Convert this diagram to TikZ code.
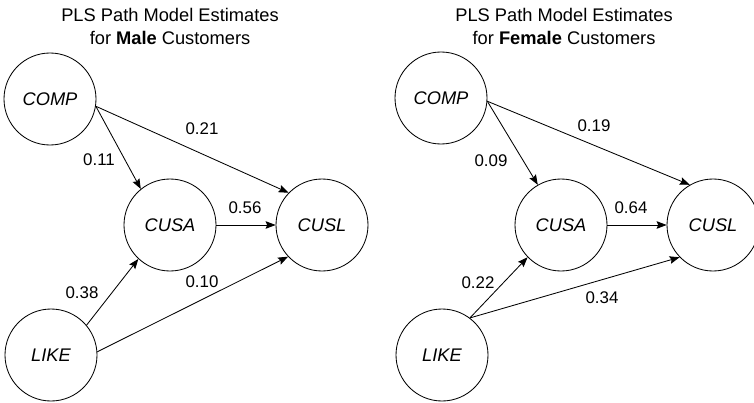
\documentclass[tikz,border=0pt]{standalone}
\usepackage{fontspec}
\setmainfont{Liberation Sans}
\usetikzlibrary{arrows.meta}

\begin{document}
\begin{tikzpicture}[
  latent/.style={draw, circle, minimum size=2.3cm, inner sep=0pt, line width=0.6pt,
                 font=\fontsize{13}{15}\selectfont\itshape},
  path/.style={-{Stealth[length=2.5mm, width=1.9mm, inset=0.4mm]}, line width=0.6pt},
  coef/.style={font=\fontsize{12}{14}\selectfont},
  title/.style={align=center, font=\fontsize{13}{16.5}\selectfont},
]
  \useasboundingbox (0,0) rectangle (18.85,-10.075);

  % ---- Male customers ----
  \node[title] (mtitle) at (4.25,-0.66) {PLS Path Model Estimates\\for \textbf{Male} Customers};
  \node[latent] (mcomp) at (1.25,-2.475)  {COMP};
  \node[latent] (mcusa) at (4.25,-5.625)  {CUSA};
  \node[latent] (mcusl) at (8.05,-5.625)  {CUSL};
  \node[latent] (mlike) at (1.275,-8.875) {LIKE};

  \draw[path] (mcomp.-9) -- (mcusa.129);   % COMP -> CUSA
  \draw[path] (mcomp.-9) -- (mcusl.136);   % COMP -> CUSL
  \draw[path] (mcusa)    -- (mcusl);       % CUSA -> CUSL
  \draw[path] (mlike.40) -- (mcusa.227);   % LIKE -> CUSA
  \draw[path] (mlike.4)  -- (mcusl.223);   % LIKE -> CUSL

  \node[coef] (m21) at (5.05,-3.225)  {0.21};
  \node[coef] (m11) at (2.475,-4.0)   {0.11};
  \node[coef] (m56) at (6.125,-5.2)   {0.56};
  \node[coef] (m38) at (2.05,-7.325)  {0.38};
  \node[coef] (m10) at (5.05,-7.05)   {0.10};

  % ---- Female customers ----
  \node[title] (ftitle) at (14.1,-0.66) {PLS Path Model Estimates\\for \textbf{Female} Customers};
  \node[latent] (fcomp) at (11.025,-2.45) {COMP};
  \node[latent] (fcusa) at (14.025,-5.625) {CUSA};
  \node[latent] (fcusl) at (17.825,-5.625) {CUSL};
  \node[latent] (flike) at (11.05,-8.875)  {LIKE};

  \draw[path] (fcomp.-4) -- (fcusa.120);   % COMP -> CUSA
  \draw[path] (fcomp.-4) -- (fcusl.120);   % COMP -> CUSL
  \draw[path] (fcusa)    -- (fcusl);       % CUSA -> CUSL
  \draw[path] (flike.53) -- (fcusa.224);   % LIKE -> CUSA
  \draw[path] (flike.53) -- (fcusl.224);   % LIKE -> CUSL

  \node[coef] (f19) at (14.85,-3.15)  {0.19};
  \node[coef] (f09) at (12.275,-4.025) {0.09};
  \node[coef] (f64) at (15.775,-5.2)  {0.64};
  \node[coef] (f22) at (11.95,-7.075) {0.22};
  \node[coef] (f34) at (15.05,-7.45)  {0.34};
\end{tikzpicture}
\end{document}
